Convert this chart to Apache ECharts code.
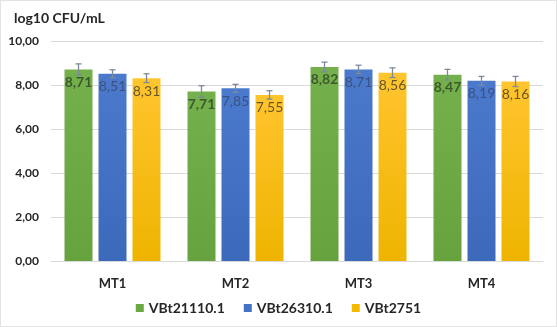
<!DOCTYPE html>
<html>
<head>
<meta charset="utf-8">
<script src="https://cdn.jsdelivr.net/npm/echarts@6/dist/echarts.min.js"></script>
<style>
html,body{margin:0;padding:0;background:#fff;}
#c{width:557px;height:327px;box-sizing:border-box;border:1px solid #e3e3e3;}
</style>
</head>
<body>
<div id="c"></div>
<script>
const categories = ['MT1', 'MT2', 'MT3', 'MT4'];
const seriesNames = ['VBt21110.1', 'VBt26310.1', 'VBt2751'];
const valuesA = [8.71, 7.71, 8.82, 8.47];
const valuesB = [8.51, 7.85, 8.71, 8.19];
const valuesC = [8.31, 7.55, 8.56, 8.16];
const errA = [0.25, 0.26, 0.22, 0.24];
const errB = [0.18, 0.18, 0.19, 0.20];
const errC = [0.20, 0.19, 0.22, 0.23];
const yTicks = [0, 2, 4, 6, 8, 10];

const FONT = 'Lato, "Open Sans", sans-serif';
const BAR_W = 28, GAP = 6;
const allValues = [valuesA, valuesB, valuesC];
const allErr = [errA, errB, errC];
const gradients = [
  ['#74b04c', '#66a33f'],
  ['#4b79cc', '#3d69bb'],
  ['#ffc52e', '#eeb400']
];
const labelColors = ['#3d5a2c', '#3a5282', '#6a5526'];
const labelWeights = ['bold', 'normal', 'normal'];
const legendColors = ['#6aa844', '#4472c4', '#f2bb00'];

const chart = echarts.init(document.getElementById('c'));

const barSeries = allValues.map((vals, i) => ({
  name: seriesNames[i],
  type: 'bar',
  data: vals,
  barWidth: BAR_W,
  barGap: (GAP / BAR_W * 100) + '%',
  itemStyle: {
    color: new echarts.graphic.LinearGradient(0, 0, 0, 1, [
      { offset: 0, color: gradients[i][0] },
      { offset: 1, color: gradients[i][1] }
    ])
  },
  label: {
    show: true,
    position: 'insideTop',
    distance: 6,
    fontFamily: FONT,
    fontSize: 14,
    fontWeight: labelWeights[i],
    color: labelColors[i],
    formatter: p => p.value.toFixed(2).replace('.', ',')
  },
  z: 2
}));

const errSeries = allValues.map((vals, i) => ({
  name: seriesNames[i] + ' err',
  type: 'custom',
  data: vals.map((v, k) => [k, v - allErr[i][k], v + allErr[i][k]]),
  renderItem: function (params, api) {
    const k = api.value(0);
    const lo = api.coord([k, api.value(1)]);
    const hi = api.coord([k, api.value(2)]);
    const x = lo[0] + (i - 1) * (BAR_W + GAP);
    const cap = 3;
    const style = { stroke: '#7d8a9c', lineWidth: 1.3 };
    return {
      type: 'group',
      children: [
        { type: 'line', shape: { x1: x, y1: lo[1], x2: x, y2: hi[1] }, style },
        { type: 'line', shape: { x1: x - cap, y1: lo[1], x2: x + cap, y2: lo[1] }, style },
        { type: 'line', shape: { x1: x - cap, y1: hi[1], x2: x + cap, y2: hi[1] }, style }
      ]
    };
  },
  encode: { x: 0, y: [1, 2] },
  z: 5,
  silent: true
}));

chart.setOption({
  animation: false,
  textStyle: { fontFamily: FONT },
  title: {
    text: 'log10 CFU/mL',
    left: 8,
    top: 5,
    textStyle: { fontFamily: FONT, fontSize: 14, fontWeight: 'bold', color: '#262626' }
  },
  legend: {
    data: seriesNames.map((n, i) => ({ name: n, itemStyle: { color: legendColors[i] } })),
    bottom: 6,
    left: 'center',
    icon: 'rect',
    itemWidth: 8,
    itemHeight: 8,
    itemGap: 19,
    textStyle: { fontFamily: FONT, fontSize: 14, fontWeight: 'bold', color: '#262626' }
  },
  grid: { left: 50, right: 13, top: 40, bottom: 65, containLabel: false },
  xAxis: {
    type: 'category',
    data: categories,
    axisTick: { show: false },
    axisLine: { lineStyle: { color: '#d9d9d9' } },
    axisLabel: { fontFamily: FONT, fontSize: 13, fontWeight: 'bold', color: '#262626', margin: 16 }
  },
  yAxis: {
    type: 'value',
    min: yTicks[0],
    max: yTicks[yTicks.length - 1],
    interval: 2,
    axisLine: { show: false },
    axisTick: { show: false },
    splitLine: { lineStyle: { color: '#d9d9d9' } },
    axisLabel: {
      fontFamily: FONT, fontSize: 12, fontWeight: 'bold', color: '#262626', margin: 12,
      formatter: v => v.toFixed(2).replace('.', ',')
    }
  },
  series: [...barSeries, ...errSeries]
});
</script>
</body>
</html>
